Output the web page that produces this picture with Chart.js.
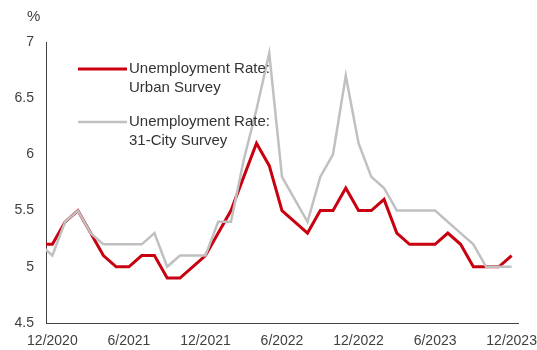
<html lang="en">
<head>
    <meta charset="UTF-8">
    <title>Unemployment Rate</title>
    <script src="https://cdn.jsdelivr.net/npm/chart.js"></script>
    <style>
        body {
            margin: 0;
            padding: 0;
            background-color: #ffffff;
        }
        #chart {
            display: block;
        }
    </style>
</head>
<body>
    <canvas id="chart" width="537" height="350"></canvas>

    <script>
        // Months from 11/2020 to 12/2023 (11/2020 sits just off the left edge)
        const months = [
            '11/2020', '12/2020',
            '1/2021', '2/2021', '3/2021', '4/2021', '5/2021', '6/2021',
            '7/2021', '8/2021', '9/2021', '10/2021', '11/2021', '12/2021',
            '1/2022', '2/2022', '3/2022', '4/2022', '5/2022', '6/2022',
            '7/2022', '8/2022', '9/2022', '10/2022', '11/2022', '12/2022',
            '1/2023', '2/2023', '3/2023', '4/2023', '5/2023', '6/2023',
            '7/2023', '8/2023', '9/2023', '10/2023', '11/2023', '12/2023'
        ];
        const urbanSurvey = [
            5.2, 5.2,
            5.4, 5.5, 5.3, 5.1, 5.0, 5.0, 5.1, 5.1, 4.9, 4.9, 5.0, 5.1,
            5.3, 5.5, 5.8, 6.1, 5.9, 5.5, 5.4, 5.3, 5.5, 5.5, 5.7, 5.5,
            5.5, 5.6, 5.3, 5.2, 5.2, 5.2, 5.3, 5.2, 5.0, 5.0, 5.0, 5.1
        ];
        const citySurvey = [
            5.2, 5.1,
            5.4, 5.5, 5.3, 5.2, 5.2, 5.2, 5.2, 5.3, 5.0, 5.1, 5.1, 5.1,
            5.4, 5.4, 5.95, 6.4, 6.9, 5.8, 5.6, 5.4, 5.8, 6.0, 6.7, 6.1,
            5.8, 5.7, 5.5, 5.5, 5.5, 5.5, 5.4, 5.3, 5.2, 5.0, 5.0, 5.0
        ];
        const tickLabels = ['12/2020', '6/2021', '12/2021', '6/2022', '12/2022', '6/2023', '12/2023'];
        const yTicks = [4.5, 5, 5.5, 6, 6.5, 7];
        const seriesNames = [
            ['Unemployment Rate:', 'Urban Survey'],
            ['Unemployment Rate:', '31-City Survey']
        ];

        const RED = '#c8000f';
        const GREY = '#c0c0c0';
        const FONT = '"Liberation Sans", Arial, sans-serif';

        // x = month index, 12/2020 = 0
        function toPoints(values) {
            return values.map((v, i) => ({ x: i - 1, y: v }));
        }

        // "%" label and the in-plot legend
        const overlay = {
            id: 'overlay',
            afterDraw(chart) {
                const ctx = chart.ctx;
                ctx.save();
                ctx.fillStyle = '#404040';
                ctx.font = '15px ' + FONT;
                ctx.textBaseline = 'middle';
                ctx.textAlign = 'left';
                ctx.fillText('%', 27, 17);

                const colors = [RED, GREY];
                const widths = [3, 2.5];
                const rows = [69, 122];
                seriesNames.forEach((lines, k) => {
                    const y = rows[k];
                    ctx.strokeStyle = colors[k];
                    ctx.lineWidth = widths[k];
                    ctx.beginPath();
                    ctx.moveTo(78, y);
                    ctx.lineTo(127, y);
                    ctx.stroke();
                    ctx.fillStyle = '#333333';
                    lines.forEach((t, j) => ctx.fillText(t, 129, y + j * 18.5));
                });
                ctx.restore();
            }
        };

        new Chart(document.getElementById('chart'), {
            type: 'line',
            data: {
                datasets: [
                    {
                        label: seriesNames[0].join(' '),
                        data: toPoints(urbanSurvey),
                        borderColor: RED,
                        borderWidth: 3,
                        pointRadius: 0,
                        tension: 0,
                        clip: 0,
                        order: 1
                    },
                    {
                        label: seriesNames[1].join(' '),
                        data: toPoints(citySurvey),
                        borderColor: GREY,
                        borderWidth: 2.5,
                        pointRadius: 0,
                        tension: 0,
                        clip: 0,
                        order: 0
                    }
                ]
            },
            options: {
                responsive: false,
                animation: false,
                layout: { padding: { top: 42, right: 19, bottom: 0, left: 0 } },
                plugins: {
                    legend: { display: false },
                    tooltip: { enabled: false }
                },
                scales: {
                    x: {
                        type: 'linear',
                        min: -0.5,
                        max: 36.5,
                        grid: { drawOnChartArea: false, drawTicks: false },
                        border: { display: true, color: '#404040', width: 1 },
                        afterBuildTicks: (scale) => {
                            scale.ticks = tickLabels.map(l => ({ value: months.indexOf(l) - 1 }));
                        },
                        afterFit: (scale) => {
                            scale.height = 27;
                            scale.paddingLeft = 0;
                            scale.paddingRight = 0;
                        },
                        ticks: {
                            autoSkip: false,
                            maxRotation: 0,
                            padding: 10,
                            color: '#404040',
                            font: { family: FONT, size: 14 },
                            callback: (v) => months[v + 1]
                        }
                    },
                    y: {
                        min: 4.5,
                        max: 7,
                        grid: { drawOnChartArea: false, drawTicks: false },
                        border: { display: true, color: '#404040', width: 1 },
                        afterBuildTicks: (scale) => {
                            scale.ticks = yTicks.map(v => ({ value: v }));
                        },
                        afterFit: (scale) => {
                            scale.width = 46;
                        },
                        ticks: {
                            padding: 12,
                            color: '#404040',
                            font: { family: FONT, size: 14 },
                            callback: (v) => String(v)
                        }
                    }
                }
            },
            plugins: [overlay]
        });
    </script>
</body>
</html>
